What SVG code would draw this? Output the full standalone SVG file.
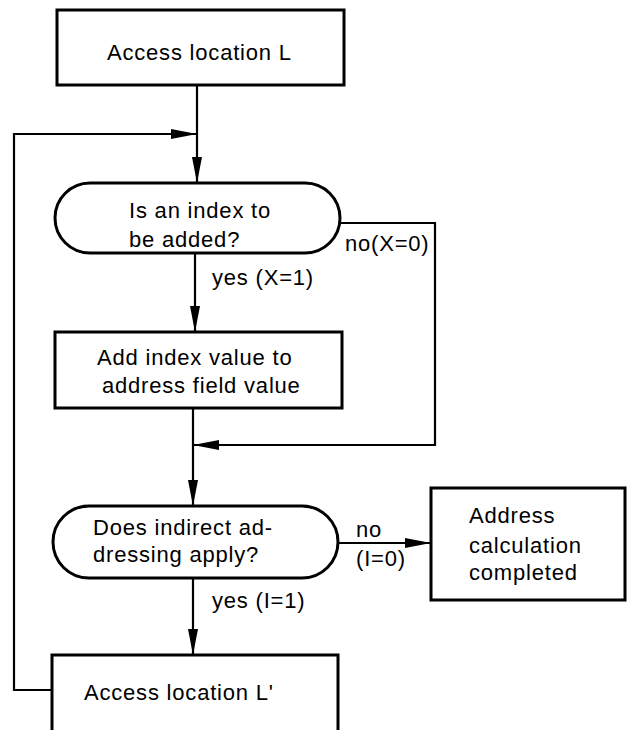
<svg xmlns="http://www.w3.org/2000/svg" width="628" height="730" viewBox="0 0 628 730">
<style>
.box{fill:#fff;stroke:#000;stroke-width:3}
.ln{fill:none;stroke:#000;stroke-width:2.2}
text{font-family:"Liberation Sans",Arial,sans-serif;font-size:22px;fill:#000;letter-spacing:0.8px}
</style>
<defs>
<marker id="ah" viewBox="0 0 26 10" refX="26" refY="5" markerWidth="26" markerHeight="10" markerUnits="userSpaceOnUse" orient="auto">
<path d="M0,0 L26,5 L0,10 Z" fill="#000"/>
</marker>
</defs>
<g id="connectors">
<path class="ln" d="M197,85 V183" marker-end="url(#ah)"/>
<path class="ln" d="M52,690 H14 V134 H197" marker-end="url(#ah)"/>
<path class="ln" d="M195,253 V332" marker-end="url(#ah)"/>
<path class="ln" d="M340,223 H435 V445 H193" marker-end="url(#ah)"/>
<path class="ln" d="M193,408 V506" marker-end="url(#ah)"/>
<path class="ln" d="M338,543 H431" marker-end="url(#ah)"/>
<path class="ln" d="M193,578 V655" marker-end="url(#ah)"/>
<text x="212" y="285">yes (X=1)</text>
<text x="345" y="251">no(X=0)</text>
<text x="356" y="537">no</text>
<text x="356" y="566">(I=0)</text>
<text x="212" y="608">yes (I=1)</text>
</g>
<g id="start">
<rect class="box" x="57" y="10" width="287" height="75"/>
<text x="107" y="60">Access location L</text>
</g>
<g id="decision-index">
<rect class="box" x="55" y="183" width="285" height="70" rx="35" ry="35"/>
<text x="129" y="218">Is an index to</text>
<text x="129" y="247">be added?</text>
</g>
<g id="add-index">
<rect class="box" x="55" y="332" width="287" height="76"/>
<text x="97" y="365">Add index value to</text>
<text x="102" y="393">address field value</text>
</g>
<g id="decision-indirect">
<rect class="box" x="53" y="506" width="285" height="72" rx="36" ry="36"/>
<text x="93" y="535">Does indirect ad-</text>
<text x="93" y="562">dressing apply?</text>
</g>
<g id="completed">
<rect class="box" x="431" y="488" width="194" height="112"/>
<text x="469" y="523">Address</text>
<text x="469" y="553">calculation</text>
<text x="469" y="580">completed</text>
</g>
<g id="access-l-prime">
<rect class="box" x="52" y="655" width="286" height="90"/>
<text x="84" y="700">Access location L'</text>
</g>
</svg>
